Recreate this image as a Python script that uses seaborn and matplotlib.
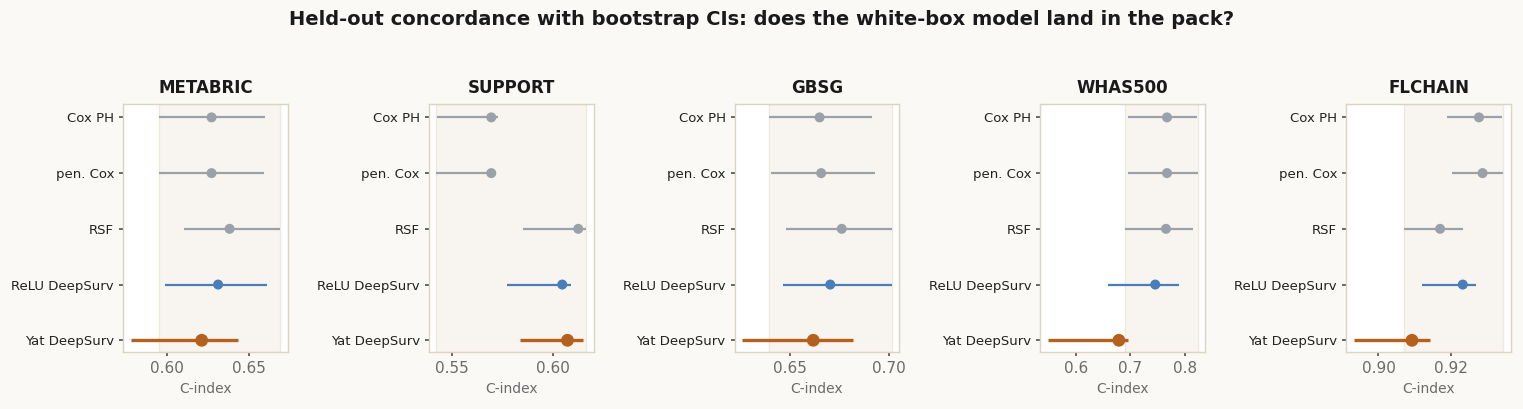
import numpy as np
import pandas as pd
import matplotlib.pyplot as plt
from matplotlib.ticker import MultipleLocator
import seaborn as sns

# DATA
datasets = ["METABRIC", "SUPPORT", "GBSG", "WHAS500", "FLCHAIN"]
models = ["Cox PH", "pen. Cox", "RSF", "ReLU DeepSurv", "Yat DeepSurv"]
baselines = ["Cox PH", "pen. Cox", "RSF"]

# point estimate, ci low, ci high per dataset (rows follow `models`)
cindex = {
    "METABRIC": [0.627, 0.627, 0.638, 0.631, 0.621],
    "SUPPORT": [0.5695, 0.5695, 0.6124, 0.6045, 0.6071],
    "GBSG": [0.6649, 0.6657, 0.6761, 0.6703, 0.6617],
    "WHAS500": [0.7667, 0.7667, 0.7649, 0.7452, 0.6788],
    "FLCHAIN": [0.9279, 0.9289, 0.9171, 0.9234, 0.9093],
}
ci_low = {
    "METABRIC": [0.595, 0.595, 0.610, 0.5986, 0.5776],
    "SUPPORT": [0.5429, 0.5424, 0.585, 0.5774, 0.5835],
    "GBSG": [0.6393, 0.6402, 0.648, 0.6462, 0.6257],
    "WHAS500": [0.6955, 0.6955, 0.690, 0.6585, 0.549],
    "FLCHAIN": [0.9191, 0.9204, 0.9071, 0.912, 0.8931],
}
ci_high = {
    "METABRIC": [0.6594, 0.659, 0.669, 0.6606, 0.6434],
    "SUPPORT": [0.5726, 0.5718, 0.6163, 0.6087, 0.6145],
    "GBSG": [0.6916, 0.6929, 0.7015, 0.7015, 0.6817],
    "WHAS500": [0.821, 0.8228, 0.8138, 0.788, 0.6955],
    "FLCHAIN": [0.9342, 0.9347, 0.9236, 0.9271, 0.9144],
}
tick_step = {"METABRIC": 0.05, "SUPPORT": 0.05, "GBSG": 0.05,
             "WHAS500": 0.1, "FLCHAIN": 0.02}

# STYLE
colors = {"Cox PH": "#9aa1a9", "pen. Cox": "#9aa1a9", "RSF": "#9aa1a9",
          "ReLU DeepSurv": "#4a7eb8", "Yat DeepSurv": "#b5611d"}
sizes = {m: 52 for m in models}
sizes["Yat DeepSurv"] = 85
widths = {m: 1.6 for m in models}
widths["Yat DeepSurv"] = 2.4

sns.set_theme(style="ticks")
plt.rcParams["font.family"] = ["DejaVu Sans"]

fig, axes = plt.subplots(1, 5, figsize=(15.23, 4.09), dpi=100)
fig.patch.set_facecolor("#faf9f6")
fig.subplots_adjust(left=0.0808, right=0.9921, top=0.7457, bottom=0.1394,
                    wspace=0.855)

for ax, name in zip(axes, datasets):
    df = pd.DataFrame({"model": models, "pos": np.arange(len(models)),
                       "c": cindex[name], "lo": ci_low[name],
                       "hi": ci_high[name]})
    ax.set_facecolor("white")

    # band covering the baseline CIs
    base = df[df.model.isin(baselines)]
    ax.axvspan(base.lo.min(), base.hi.max(), color="#f8f5f0",
               ec="#efe8dd", lw=1, zorder=0)

    for _, row in df.iterrows():
        ax.hlines(row.pos, row.lo, row.hi, color=colors[row.model],
                  lw=widths[row.model], zorder=2)
    sns.scatterplot(data=df, x="c", y="pos", hue="model", palette=colors,
                    size="model", sizes=sizes, legend=False, ax=ax,
                    edgecolor="none", zorder=3)

    ax.xaxis.set_major_locator(MultipleLocator(tick_step[name]))
    ax.set_yticks(df.pos)
    ax.set_yticklabels(models, fontsize=9.5, color="#222222")
    ax.set_ylim(4.21, -0.24)
    ax.set_ylabel("")
    ax.set_xlabel("C-index", fontsize=10, color="#6b6b6b")
    ax.tick_params(axis="x", labelsize=11, labelcolor="#6b6b6b",
                   color="#555555", length=3)
    ax.tick_params(axis="y", color="#555555", length=3)
    ax.set_title(name, fontsize=12, fontweight="bold", color="#1a1a1a",
                 pad=8)
    for sp in ax.spines.values():
        sp.set_visible(True)
        sp.set_color("#ddd3c2")
        sp.set_linewidth(1)

fig.suptitle("Held-out concordance with bootstrap CIs: does the white-box model land in the pack?",
             fontsize=14, fontweight="bold", color="#1a1a1a", y=0.975)

fig.savefig("out.png", dpi=100, facecolor=fig.get_facecolor())
